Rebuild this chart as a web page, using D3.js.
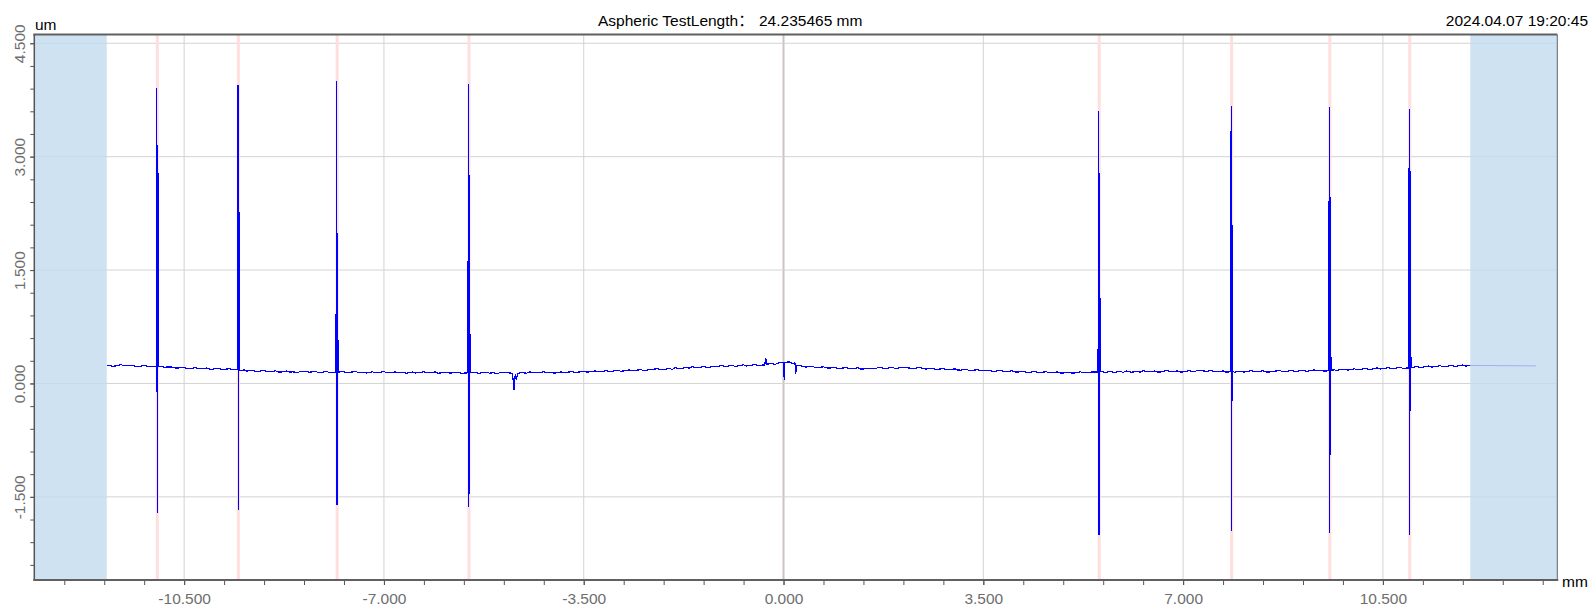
<!DOCTYPE html>
<html><head><meta charset="utf-8">
<script src="https://cdn.jsdelivr.net/npm/d3@7"></script>
<style>
body{margin:0;background:#fff}
svg{display:block}
text{font-family:"Liberation Sans",Arial,"Noto Sans CJK SC",sans-serif}
</style>
</head><body>
<svg id="chart" width="1592" height="616"></svg>
<script>
// ---------- data ----------
const titleText = "Aspheric TestLength：";
const lengthText = "24.235465 mm";
const dateText = "2024.04.07 19:20:45";
const yUnit = "um";
const xUnit = "mm";
const xTicks = [-10.5, -7, -3.5, 0, 3.5, 7, 10.5];
const yTicks = [-1.5, 0, 1.5, 3, 4.5];
const xDomain = [-13.125, 13.555];
const yDomain = [-2.6, 4.616];
const xMinorStep = 0.7;
const yMinorStep = 0.3;
const bandRanges = [[-13.125, -11.856], [12.03, 13.555]];
const markerX = [-10.97, -9.55, -7.82, -5.51, 5.53, 7.85, 9.57, 10.97];

const baseProfile = [
[-11.856,0.236],[-11.8,0.240],[-11.75,0.226],[-11.7,0.232],[-11.6,0.248],[-11.55,0.233],[-11.5,0.236],[-11.4,0.243],[-11.35,0.226],[-11.3,0.222],[-11.2,0.240],[-11.15,0.228],[-11.1,0.229],[-11.0,0.222],
[-10.9,0.228],[-10.85,0.212],[-10.8,0.219],[-10.7,0.216],[-10.65,0.203],[-10.6,0.205],[-10.5,0.213],[-10.45,0.197],[-10.4,0.196],[-10.3,0.209],[-10.25,0.194],[-10.2,0.194],[-10.1,0.205],[-10.05,0.188],[-10.0,0.189],
[-9.9,0.201],[-9.85,0.186],[-9.8,0.186],[-9.7,0.196],[-9.65,0.181],[-9.6,0.183],[-9.5,0.170],[-9.45,0.178],[-9.4,0.164],[-9.3,0.176],[-9.25,0.158],[-9.2,0.161],[-9.1,0.171],[-9.05,0.155],[-9.0,0.156],
[-8.9,0.167],[-8.85,0.150],[-8.8,0.152],[-8.7,0.165],[-8.65,0.150],[-8.6,0.153],[-8.5,0.147],[-8.45,0.163],[-8.4,0.161],[-8.3,0.149],[-8.2,0.160],[-8.15,0.145],[-8.1,0.147],[-8.0,0.157],[-7.95,0.143],
[-7.9,0.149],[-7.7,0.155],[-7.65,0.142],[-7.6,0.146],[-7.5,0.159],[-7.45,0.146],[-7.4,0.148],[-7.3,0.139],[-7.2,0.154],[-7.15,0.141],[-7.1,0.145],[-7.0,0.157],[-6.95,0.140],[-6.9,0.143],
[-6.8,0.153],[-6.75,0.141],[-6.7,0.146],[-6.6,0.136],[-6.5,0.151],[-6.45,0.138],[-6.4,0.142],[-6.3,0.155],[-6.25,0.140],[-6.2,0.144],[-6.1,0.152],[-6.05,0.135],[-6.0,0.139],[-5.9,0.149],
[-5.85,0.136],[-5.8,0.141],[-5.7,0.150],[-5.65,0.135],[-5.6,0.137],[-5.4,0.148],[-5.35,0.134],[-5.3,0.139],[-5.2,0.150],[-5.15,0.136],[-5.1,0.141],[-5.0,0.133],[-4.95,0.149],[-4.9,0.147],[-4.8,0.138],
[-4.75,0.136],[-4.72,-0.08],[-4.70,0.12],[-4.68,0.05],[-4.66,0.13],[-4.6,0.144],[-4.5,0.136],[-4.45,0.151],[-4.4,0.149],[-4.3,0.141],[-4.2,0.154],[-4.15,0.140],
[-4.1,0.145],[-4.0,0.137],[-3.9,0.153],[-3.85,0.142],[-3.8,0.146],[-3.7,0.158],[-3.65,0.145],[-3.6,0.149],[-3.5,0.162],[-3.45,0.150],[-3.4,0.154],[-3.3,0.165],[-3.25,0.152],[-3.2,0.157],
[-3.1,0.170],[-3.05,0.157],[-3.0,0.161],[-2.9,0.174],[-2.85,0.161],[-2.8,0.166],[-2.7,0.180],[-2.65,0.166],[-2.6,0.171],[-2.5,0.184],[-2.45,0.170],[-2.4,0.175],[-2.3,0.188],[-2.2,0.195],[-2.15,0.180],
[-2.1,0.184],[-2.0,0.199],[-1.95,0.186],[-1.9,0.207],[-1.8,0.196],[-1.7,0.213],[-1.65,0.201],[-1.6,0.221],[-1.5,0.206],[-1.4,0.226],[-1.35,0.212],[-1.3,0.215],[-1.2,0.230],[-1.15,0.219],
[-1.1,0.238],[-1.0,0.224],[-0.9,0.240],[-0.85,0.226],[-0.8,0.232],[-0.7,0.246],[-0.65,0.231],[-0.6,0.236],[-0.5,0.250],[-0.45,0.236],[-0.4,0.241],[-0.33,0.245],[-0.31,0.33],
[-0.29,0.255],[-0.2,0.264],[-0.15,0.250],[-0.1,0.270],[-0.05,0.275],[0.0,0.272],[0.012,0.05],[0.025,0.28],[0.1,0.285],[0.15,0.268],[0.2,0.27],[0.215,0.13],
[0.225,0.24],[0.3,0.234],[0.35,0.220],[0.4,0.217],[0.5,0.228],[0.55,0.213],[0.6,0.210],[0.7,0.220],[0.75,0.206],[0.8,0.203],[0.9,0.214],[0.95,0.199],[1.0,0.199],[1.1,0.211],
[1.15,0.195],[1.2,0.195],[1.3,0.207],[1.35,0.192],[1.4,0.191],[1.5,0.203],[1.6,0.194],[1.65,0.208],[1.7,0.209],[1.8,0.197],[1.9,0.213],[1.95,0.200],[2.0,0.201],[2.1,0.216],
[2.2,0.204],[2.3,0.196],[2.35,0.211],[2.4,0.209],[2.5,0.190],[2.6,0.203],[2.65,0.188],[2.7,0.186],[2.8,0.198],[2.85,0.184],[2.9,0.181],[3.0,0.193],[3.05,0.178],[3.1,0.176],
[3.2,0.188],[3.25,0.172],[3.3,0.171],[3.4,0.183],[3.45,0.168],[3.5,0.167],[3.6,0.177],[3.65,0.163],[3.7,0.160],[3.8,0.173],[3.85,0.159],[3.9,0.156],[4.0,0.168],[4.05,0.153],[4.1,0.150],
[4.2,0.163],[4.25,0.149],[4.3,0.146],[4.4,0.159],[4.45,0.145],[4.5,0.143],[4.6,0.156],[4.65,0.142],[4.7,0.141],[4.8,0.153],[4.85,0.139],[4.9,0.137],[5.0,0.150],[5.05,0.138],[5.1,0.139],
[5.2,0.154],[5.25,0.141],[5.3,0.142],[5.4,0.151],[5.6,0.154],[5.65,0.141],[5.7,0.160],[5.8,0.147],[5.9,0.159],[5.95,0.146],[6.0,0.165],[6.1,0.149],[6.2,0.161],[6.25,0.148],
[6.3,0.167],[6.4,0.154],[6.5,0.164],[6.55,0.150],[6.6,0.152],[6.7,0.170],[6.8,0.156],[6.9,0.165],[6.95,0.151],[7.0,0.153],[7.1,0.168],[7.2,0.157],[7.25,0.171],
[7.3,0.173],[7.4,0.160],[7.5,0.170],[7.55,0.156],[7.6,0.155],[7.7,0.166],[7.75,0.150],[7.8,0.153],[7.9,0.149],[8.0,0.164],[8.05,0.151],[8.1,0.154],[8.2,0.169],[8.25,0.155],
[8.3,0.156],[8.4,0.167],[8.45,0.152],[8.5,0.151],[8.6,0.163],[8.7,0.169],[8.75,0.155],[8.8,0.156],[8.9,0.173],[8.95,0.159],[9.0,0.161],[9.1,0.176],[9.15,0.162],[9.2,0.164],
[9.3,0.180],[9.35,0.166],[9.4,0.169],[9.5,0.163],[9.65,0.180],[9.7,0.170],[9.75,0.184],[9.8,0.188],[9.9,0.177],[10.0,0.195],[10.05,0.180],[10.1,0.183],[10.2,0.200],[10.25,0.186],
[10.3,0.189],[10.4,0.205],[10.45,0.191],[10.5,0.194],[10.6,0.210],[10.65,0.196],[10.7,0.199],[10.8,0.214],[10.85,0.200],[10.9,0.203],[11.05,0.218],[11.1,0.226],[11.15,0.211],[11.2,0.215],
[11.3,0.231],[11.35,0.217],[11.4,0.220],[11.5,0.236],[11.55,0.221],[11.6,0.224],[11.7,0.240],[11.75,0.226],[11.8,0.229],[11.9,0.244],[11.95,0.230],[12.0,0.234],[12.03,0.238]
];

const spikes = [
[[-10.99,0.222],[-10.984,-0.04],[-10.978,3.91],[-10.972,-1.71],[-10.966,0.95],[-10.96,2.88],[-10.952,0.23]],
[[-9.57,0.18],[-9.558,3.95],[-9.552,-1.67],[-9.546,-0.41],[-9.541,2.38],[-9.536,0.67],[-9.528,0.175]],
[[-7.84,0.15],[-7.828,4.0],[-7.822,-1.61],[-7.816,-0.84],[-7.811,1.99],[-7.806,0.5],[-7.798,0.152]],
[[-5.53,0.14],[-5.518,3.96],[-5.512,-1.64],[-5.506,-0.23],[-5.501,2.76],[-5.496,0.83],[-5.488,0.145]],
[[5.51,0.15],[5.522,3.60],[5.528,-2.0],[5.534,0.85],[5.539,2.79],[5.544,0.3],[5.552,0.155]],
[[7.83,0.16],[7.842,3.67],[7.848,-1.95],[7.854,-0.84],[7.859,2.09],[7.864,0.52],[7.872,0.158]],
[[9.55,0.17],[9.562,3.66],[9.568,-1.98],[9.574,-0.35],[9.579,2.46],[9.584,0.64],[9.592,0.175]],
[[10.95,0.205],[10.962,3.63],[10.968,-2.0],[10.974,-0.1],[10.979,2.81],[10.984,0.96],[10.992,0.21]]
];
const tailProfile = [[12.03,0.238],[13.18,0.232]];

// ---------- drawing ----------
const svg = d3.select("#chart");
const L = 34.3, R = 1557.3, T = 34.5, B = 580;
const x = d3.scaleLinear().domain(xDomain).range([L, R]);
const y = d3.scaleLinear().domain(yDomain).range([B, T]);

const profile = baseProfile.concat(...spikes).sort((a, b) => a[0] - b[0]);

// grid
const grid = svg.append("g");
grid.selectAll("line.gx").data(xTicks).join("line")
  .attr("x1", d => x(d)).attr("x2", d => x(d)).attr("y1", T).attr("y2", B)
  .attr("stroke", d => d === 0 ? "#cdc3c3" : "#d3d3d3")
  .attr("stroke-width", d => d === 0 ? 2 : 1);
grid.selectAll("line.gy").data(yTicks).join("line")
  .attr("x1", L).attr("x2", R).attr("y1", d => y(d)).attr("y2", d => y(d))
  .attr("stroke", "#d3d3d3").attr("stroke-width", 1);

// marker lines
svg.append("g").selectAll("line").data(markerX).join("line")
  .attr("x1", d => x(d)).attr("x2", d => x(d)).attr("y1", T).attr("y2", B)
  .attr("stroke", "#ffdede").attr("stroke-width", 3);

const line = d3.line().x(d => x(d[0])).y(d => y(d[1]));
svg.append("path").datum(tailProfile).attr("d", line)
  .attr("fill", "none").attr("stroke", "#0000ff").attr("stroke-width", 1);
svg.append("path").datum(profile).attr("d", line)
  .attr("fill", "none").attr("stroke", "#0000ff").attr("stroke-width", 1.2)
  .attr("shape-rendering", "crispEdges");

// bands
svg.append("g").selectAll("rect").data(bandRanges).join("rect")
  .attr("x", d => x(d[0])).attr("width", d => x(d[1]) - x(d[0]))
  .attr("y", T).attr("height", B - T)
  .attr("fill", "#c3dbef").attr("fill-opacity", 0.8);

// axes
const fmt = d => d.toFixed(3);
const yMinor = d3.range(Math.ceil(yDomain[0] / yMinorStep) * yMinorStep, yDomain[1], yMinorStep);
const xMinor = d3.range(Math.ceil(xDomain[0] / xMinorStep) * xMinorStep, xDomain[1], xMinorStep);

const ax = svg.append("g").attr("transform", `translate(${L},0)`)
  .call(d3.axisLeft(y).tickValues(yMinor).tickSize(4).tickFormat(""));
ax.select(".domain").remove();
ax.selectAll("line").attr("stroke", "#555");
const ay = svg.append("g").attr("transform", `translate(${L},0)`)
  .call(d3.axisLeft(y).tickValues(yTicks).tickSize(4).tickFormat(fmt));
ay.select(".domain").remove();
ay.selectAll("line").attr("stroke", "#555");
ay.selectAll("text").attr("transform", "rotate(-90)")
  .attr("x", 0).attr("y", -9).attr("dy", 0).attr("text-anchor", "middle")
  .attr("fill", "#6e6e6e").style("font-size", "15.5px")
  .style("font-family", '"Liberation Sans",Arial,sans-serif');

const bx = svg.append("g").attr("transform", `translate(0,${B})`)
  .call(d3.axisBottom(x).tickValues(xMinor).tickSize(5).tickFormat(""));
bx.select(".domain").remove();
bx.selectAll("line").attr("stroke", "#555");
const bxm = svg.append("g").attr("transform", `translate(0,${B})`)
  .call(d3.axisBottom(x).tickValues(xTicks).tickSize(5).tickFormat(fmt));
bxm.select(".domain").remove();
bxm.selectAll("line").attr("stroke", "#555");
bxm.selectAll("text").attr("y", 24).attr("dy", 0)
  .attr("fill", "#6e6e6e").style("font-size", "15.5px")
  .style("font-family", '"Liberation Sans",Arial,sans-serif');

// frame
svg.append("line").attr("x1", L - 1).attr("x2", R).attr("y1", T).attr("y2", T)
  .attr("stroke", "#606060").attr("stroke-width", 2);
svg.append("line").attr("x1", L).attr("x2", L).attr("y1", T).attr("y2", B + 1)
  .attr("stroke", "#555").attr("stroke-width", 1.5);
svg.append("line").attr("x1", L - 1).attr("x2", R + 1).attr("y1", B).attr("y2", B)
  .attr("stroke", "#606060").attr("stroke-width", 2);
svg.append("line").attr("x1", R).attr("x2", R).attr("y1", T).attr("y2", B)
  .attr("stroke", "#666").attr("stroke-width", 1);

// texts
const txt = (s, xx, yy, anchor) => svg.append("text").text(s)
  .attr("x", xx).attr("y", yy).attr("text-anchor", anchor || "start")
  .attr("fill", "#000").style("font-size", "15.5px");
txt(titleText, 598, 26);
txt(lengthText, 759, 26);
txt(dateText, 1588, 26, "end");
txt(yUnit, 35, 30);
txt(xUnit, 1562, 587);
</script>
</body></html>
